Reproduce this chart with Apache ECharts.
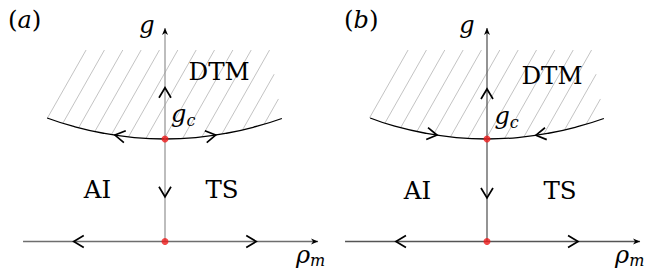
<!DOCTYPE html>
<html><head><meta charset="utf-8">
<script src="https://cdn.jsdelivr.net/npm/echarts@6/dist/echarts.min.js"></script>
<style>html,body{margin:0;padding:0;background:#fff}#c{width:657px;height:272px}</style>
</head><body><div id="c"></div>
<script>
// ---- data (units: rho_m horizontally, g vertically, g_c = 1) ----
const arcX_a = [-1.15, -0.9, -0.6, -0.3, 0, 0.3, 0.6, 0.9, 1.14];
const arcG_a = [1.205, 1.125, 1.056, 1.014, 1.0, 1.014, 1.056, 1.125, 1.2];
const arcX_b = [-1.14, -0.9, -0.6, -0.3, 0, 0.3, 0.6, 0.9, 1.14];
const arcG_b = [1.205, 1.125, 1.056, 1.014, 1.0, 1.014, 1.056, 1.125, 1.2];
const fixedPoints = [[0, 0], [0, 1]];
const rhoAxis = [[-1.385, 0], [1.493, 0]];
const gAxis = [[0, 0], [0, 2.083]];
const axisHeads = [[1.493, 0, 0], [0, 2.083, 90]];
// flow arrows: [rho, g, direction in degrees]
const flow_a = [[-0.9, 0, 180], [0.9, 0, 0], [0, 1.51, 90], [0, 0.427, 270], [-0.498, 1.04, 171], [0.504, 1.04, 9]];
const flow_b = [[-0.898, 0, 180], [0.898, 0, 0], [0, 1.498, 90], [0, 0.415, 270], [-0.478, 1.037, -8.5], [0.468, 1.036, 188.5]];
// hatched DTM region: top g, first line's top rho, spacing, drift (rho per g), right edge top rho
const hatchTop = 1.868, hatchLeft = -0.77, hatchStep = 0.179, hatchSlope = 0.568, hatchRight = 1.024;
// text labels: parts [text, style], anchor (rho, g)
const labels_a = [
  {parts: [['(', 'r'], ['a', 'i'], [')', 'r']], x: -1.532, g: 2.161, al: 'left'},
  {parts: [['g', 'i']], x: -0.176, g: 2.109, al: 'center'},
  {parts: [['DTM', 'r']], x: 0.527, g: 1.659, al: 'center'},
  {parts: [['g', 'i'], ['c', 's']], x: 0.059, g: 1.241, al: 'left'},
  {parts: [['AI', 'r']], x: -0.659, g: 0.507, al: 'center'},
  {parts: [['TS', 'r']], x: 0.556, g: 0.507, al: 'center'},
  {parts: [['ρ', 'i'], ['m', 's']], x: 1.278, g: -0.13, al: 'left'}
];
const labels_b = [
  {parts: [['(', 'r'], ['b', 'i'], [')', 'r']], x: -1.395, g: 2.161, al: 'left'},
  {parts: [['g', 'i']], x: -0.195, g: 2.109, al: 'center'},
  {parts: [['DTM', 'r']], x: 0.634, g: 1.615, al: 'center'},
  {parts: [['g', 'i'], ['c', 's']], x: 0.073, g: 1.224, al: 'left'},
  {parts: [['AI', 'r']], x: -0.678, g: 0.493, al: 'center'},
  {parts: [['TS', 'r']], x: 0.712, g: 0.493, al: 'center'},
  {parts: [['ρ', 'i'], ['m', 's']], x: 1.249, g: -0.13, al: 'left'}
];

// ---- layout ----
const U = 102.5;
const origins = [[165, 241.5], [487, 241.5]];
const XMIN = -1.5, XMAX = 1.5, YMIN = -0.25, YMAX = 2.25;
const FONT = 'DejaVu Serif';
const TSTYLE = {
  r: {fontSize: 24.5, fontStyle: 'normal', dy: 0},
  i: {fontSize: 24, fontStyle: 'italic', dy: 0},
  s: {fontSize: 16, fontStyle: 'italic', dy: 6}
};
const panels = [
  {arcX: arcX_a, arcG: arcG_a, flow: flow_a, labels: labels_a, hColor: '#6e6e6e', vColor: '#9a9a9a'},
  {arcX: arcX_b, arcG: arcG_b, flow: flow_b, labels: labels_b, hColor: '#555555', vColor: '#5a5a5a'}
];
const mctx = document.createElement('canvas').getContext('2d');
function textWidth(t, st) { mctx.font = st.fontStyle + ' ' + st.fontSize + 'px "' + FONT + '"'; return mctx.measureText(t).width; }

function interp(xs, ys, x) {
  if (x <= xs[0]) return ys[0];
  if (x >= xs[xs.length - 1]) return ys[ys.length - 1];
  for (let k = 1; k < xs.length; k++) {
    if (x <= xs[k]) { const t = (x - xs[k - 1]) / (xs[k] - xs[k - 1]); return ys[k - 1] + t * (ys[k] - ys[k - 1]); }
  }
  return ys[ys.length - 1];
}
function hatchRender(P) {
  return function (params, api) {
    const n = P.arcX.length;
    const rbx = P.arcX[n - 1], rbg = P.arcG[n - 1];
    const rk = (rbx - hatchRight) / (hatchTop - rbg);
    const children = [];
    for (let i = 0; i < 20; i++) {
      const xt = hatchLeft + i * hatchStep;
      let s0 = 0;
      if (xt > hatchRight) s0 = (xt - hatchRight) / (hatchSlope + rk);
      const f = s => (hatchTop - s) - interp(P.arcX, P.arcG, xt - hatchSlope * s);
      if (f(s0) <= 0.005) break;
      let lo = s0, hi = 3;
      for (let k = 0; k < 60; k++) { const m = (lo + hi) / 2; if (f(m) > 0) lo = m; else hi = m; }
      const p0 = api.coord([xt - hatchSlope * s0, hatchTop - s0]);
      const p1 = api.coord([xt - hatchSlope * lo, hatchTop - lo]);
      children.push({type: 'line', shape: {x1: p0[0], y1: p0[1], x2: p1[0], y2: p1[1]},
        style: {stroke: '#b4b4b4', lineWidth: 0.8}});
    }
    return {type: 'group', children};
  };
}
function chevronRender(params, api) {
  const p = api.coord([api.value(0), api.value(1)]);
  const a = api.value(2) * Math.PI / 180;
  const dx = Math.cos(a), dy = -Math.sin(a), nx = -dy, ny = dx;
  const L = 11, H = 6;
  return {type: 'polyline', shape: {points: [
    [p[0] - dx * L + nx * H, p[1] - dy * L + ny * H], [p[0] - dx, p[1] - dy], [p[0] - dx * L - nx * H, p[1] - dy * L - ny * H]]},
    style: {stroke: '#000', lineWidth: 1.7, fill: null}};
}
function headRender(params, api) {
  const p = api.coord([api.value(0), api.value(1)]);
  const a = api.value(2) * Math.PI / 180;
  const dx = Math.cos(a), dy = -Math.sin(a), nx = -dy, ny = dx;
  const L = 7, H = 3, B = 5;
  return {type: 'polygon', shape: {points: [
    [p[0], p[1]], [p[0] - dx * L + nx * H, p[1] - dy * L + ny * H], [p[0] - dx * B, p[1] - dy * B], [p[0] - dx * L - nx * H, p[1] - dy * L - ny * H]]},
    style: {fill: '#000'}};
}
function textRender(list) {
  return function (params, api) {
    const L = list[params.dataIndex];
    const p = api.coord([L.x, L.g]);
    const widths = L.parts.map(q => textWidth(q[0], TSTYLE[q[1]]));
    const total = widths.reduce((s, v) => s + v, 0);
    let cx = L.al === 'center' ? p[0] - total / 2 : p[0];
    const children = L.parts.map((q, k) => {
      const st = TSTYLE[q[1]];
      const el = {type: 'text', x: cx, y: p[1] + st.dy, style: {text: q[0], fontFamily: FONT, fontSize: st.fontSize,
        fontStyle: st.fontStyle, fill: '#000', align: 'left', verticalAlign: 'middle'}};
      cx += widths[k];
      return el;
    });
    return {type: 'group', children};
  };
}

const grid = [], xAxis = [], yAxis = [], series = [];
panels.forEach((P, i) => {
  const o = origins[i];
  grid.push({left: o[0] + XMIN * U, top: o[1] - YMAX * U, width: (XMAX - XMIN) * U, height: (YMAX - YMIN) * U});
  xAxis.push({gridIndex: i, type: 'value', min: XMIN, max: XMAX, show: false});
  yAxis.push({gridIndex: i, type: 'value', min: YMIN, max: YMAX, show: false});
  const ax = {xAxisIndex: i, yAxisIndex: i};
  series.push({type: 'custom', ...ax, renderItem: hatchRender(P), data: [[0, 0]], z: 1, silent: true, clip: false});
  series.push({type: 'line', ...ax, data: P.arcX.map((x, k) => [x, P.arcG[k]]), smooth: true, symbol: 'none',
    lineStyle: {color: '#000', width: 1.3}, z: 2, silent: true, clip: false});
  series.push({type: 'line', ...ax, data: rhoAxis, symbol: 'none', lineStyle: {color: P.hColor, width: 1.3}, z: 2, silent: true, clip: false});
  series.push({type: 'line', ...ax, data: gAxis, symbol: 'none', lineStyle: {color: P.vColor, width: 1.3}, z: 2, silent: true, clip: false});
  series.push({type: 'custom', ...ax, renderItem: headRender, data: axisHeads, z: 3, silent: true, clip: false});
  series.push({type: 'custom', ...ax, renderItem: chevronRender, data: P.flow, z: 3, silent: true, clip: false});
  series.push({type: 'scatter', ...ax, data: fixedPoints, symbolSize: 7, itemStyle: {color: '#ee1c1c'}, z: 4, silent: true});
  series.push({type: 'custom', ...ax, renderItem: textRender(P.labels), data: P.labels.map(l => [l.x, l.g]), z: 5, silent: true, clip: false});
});

const chart = echarts.init(document.getElementById('c'), null, {renderer: 'svg'});
chart.setOption({animation: false, backgroundColor: '#fff', grid, xAxis, yAxis, series});
</script>
</body></html>
